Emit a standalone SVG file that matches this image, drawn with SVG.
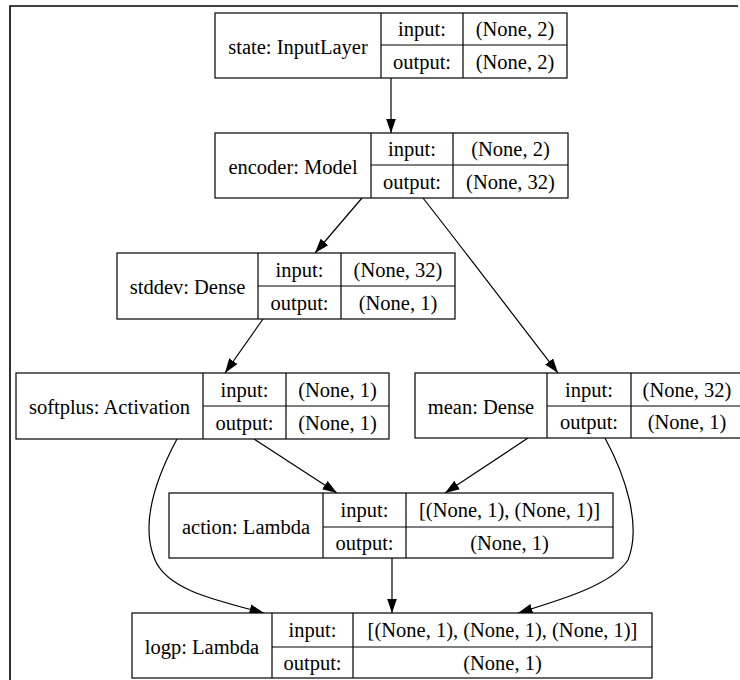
<svg xmlns="http://www.w3.org/2000/svg" width="740" height="680" viewBox="0 0 740 680">
<style>
  .box{fill:#fff;stroke:#000;stroke-width:1.2}
  .ln{fill:none;stroke:#000;stroke-width:1.2}
  .t{font-family:'Liberation Serif',Tinos,'Times New Roman','Nimbus Roman','DejaVu Serif',serif;font-size:20.5px;fill:#000;text-anchor:middle}
  .edge{fill:none;stroke:#000;stroke-width:1.2}
</style>
<defs>
  <marker id="ah" markerUnits="userSpaceOnUse" markerWidth="16" markerHeight="12" refX="14.5" refY="5.5" orient="auto">
    <path d="M0,0.5 L14.5,5.5 L0,10.5 z" fill="#000"/>
  </marker>
</defs>
<rect x="0" y="0" width="740" height="680" fill="#fff"/>
<path d="M10,690 L10,6 L738,6" fill="none" stroke="#000" stroke-width="1.6"/>

<g id="connectors">
  <path class="edge" d="M391,78 L391,133" marker-end="url(#ah)"/>
  <path class="edge" d="M362,198 L315,253" marker-end="url(#ah)"/>
  <path class="edge" d="M423,198 C470,258 514,316 558,373" marker-end="url(#ah)"/>
  <path class="edge" d="M263,319 L225,373" marker-end="url(#ah)"/>
  <path class="edge" d="M254,439 L337,493" marker-end="url(#ah)"/>
  <path class="edge" d="M528,438 L445,493" marker-end="url(#ah)"/>
  <path class="edge" d="M177,439 C155,480 140,525 155,560 C168,590 215,600 264,613" marker-end="url(#ah)"/>
  <path class="edge" d="M605,438 C625,475 642,525 628,560 C612,585 560,600 518,613" marker-end="url(#ah)"/>
  <path class="edge" d="M392,558 L392,613" marker-end="url(#ah)"/>
</g>

<g id="state">
  <rect class="box" x="215" y="13" width="352" height="65"/>
  <path class="ln" d="M381,13 V78 M463,13 V78 M381,45 H567"/>
  <text class="t" x="298" y="53.5">state: InputLayer</text>
  <text class="t" x="422" y="36">input:</text>
  <text class="t" x="515" y="36">(None, 2)</text>
  <text class="t" x="422" y="68.5">output:</text>
  <text class="t" x="515" y="68.5">(None, 2)</text>
</g>

<g id="encoder">
  <rect class="box" x="215" y="133" width="353" height="65"/>
  <path class="ln" d="M371,133 V198 M453,133 V198 M371,165 H568"/>
  <text class="t" x="293" y="173.5">encoder: Model</text>
  <text class="t" x="412" y="156">input:</text>
  <text class="t" x="510.5" y="156">(None, 2)</text>
  <text class="t" x="412" y="188.5">output:</text>
  <text class="t" x="510.5" y="188.5">(None, 32)</text>
</g>

<g id="stddev">
  <rect class="box" x="117" y="253" width="338" height="66"/>
  <path class="ln" d="M258,253 V319 M341,253 V319 M258,286 H455"/>
  <text class="t" x="187.5" y="294">stddev: Dense</text>
  <text class="t" x="299.5" y="276.5">input:</text>
  <text class="t" x="398" y="276.5">(None, 32)</text>
  <text class="t" x="299.5" y="309.5">output:</text>
  <text class="t" x="398" y="309.5">(None, 1)</text>
</g>

<g id="softplus">
  <rect class="box" x="16" y="373" width="373" height="66"/>
  <path class="ln" d="M203,373 V439 M286,373 V439 M203,406 H389"/>
  <text class="t" x="109.5" y="414">softplus: Activation</text>
  <text class="t" x="244.5" y="396.5">input:</text>
  <text class="t" x="337.5" y="396.5">(None, 1)</text>
  <text class="t" x="244.5" y="429.5">output:</text>
  <text class="t" x="337.5" y="429.5">(None, 1)</text>
</g>

<g id="mean">
  <rect class="box" x="415" y="373" width="328" height="65"/>
  <path class="ln" d="M547,373 V438 M631,373 V438 M547,406 H743"/>
  <text class="t" x="481" y="413.5">mean: Dense</text>
  <text class="t" x="589" y="396.5">input:</text>
  <text class="t" x="687" y="396.5">(None, 32)</text>
  <text class="t" x="589" y="429">output:</text>
  <text class="t" x="687" y="429">(None, 1)</text>
</g>

<g id="action">
  <rect class="box" x="169" y="493" width="444" height="65"/>
  <path class="ln" d="M323,493 V558 M406,493 V558 M323,527 H613"/>
  <text class="t" x="246" y="533.5">action: Lambda</text>
  <text class="t" x="364.5" y="517">input:</text>
  <text class="t" x="509.5" y="517">[(None, 1), (None, 1)]</text>
  <text class="t" x="364.5" y="549.5">output:</text>
  <text class="t" x="509.5" y="549.5">(None, 1)</text>
</g>

<g id="logp">
  <rect class="box" x="132" y="613" width="520" height="65"/>
  <path class="ln" d="M272,613 V678 M353,613 V678 M272,647 H652"/>
  <text class="t" x="202" y="653.5">logp: Lambda</text>
  <text class="t" x="312.5" y="637">input:</text>
  <text class="t" x="502.5" y="637">[(None, 1), (None, 1), (None, 1)]</text>
  <text class="t" x="312.5" y="669.5">output:</text>
  <text class="t" x="502.5" y="669.5">(None, 1)</text>
</g>
</svg>
